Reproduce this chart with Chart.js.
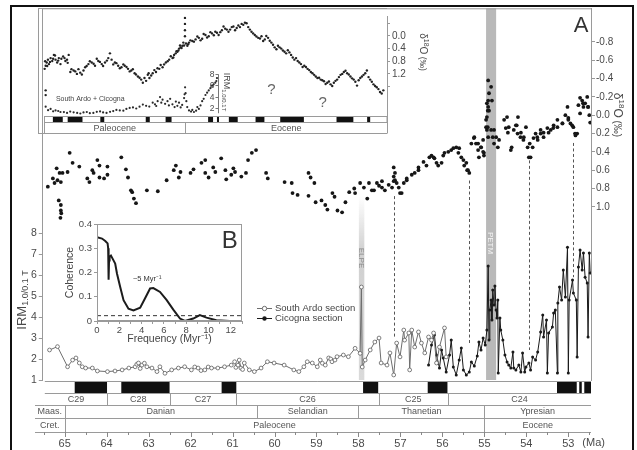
<!DOCTYPE html>
<html>
<head>
<meta charset="utf-8">
<script src="https://cdn.jsdelivr.net/npm/chart.js@4.4.1/dist/chart.umd.min.js"></script>
<style>
  html, body { margin: 0; padding: 0; background: #fff; }
  #wrap { position: relative; width: 637px; height: 450px; overflow: hidden; background: #fff; }
  canvas { position: absolute; }
  #frame { position: absolute; left: 10px; top: 5px; width: 620px; height: 470px; border: 2px solid #111; pointer-events: none; }
</style>
</head>
<body>
<div id="wrap">
  <canvas id="main" width="637" height="450" style="left:0;top:0"></canvas>
  <canvas id="insetA" width="395" height="127" style="left:38px;top:8px"></canvas>
  <canvas id="insetB" width="195" height="132" style="left:55px;top:215px"></canvas>
  <div id="frame"></div>
</div>
<script>
// ---- main panel: Cicogna d18O (Ma, per mil) ----
const d18oAge = [
  65.40,65.28,65.24,65.19,65.17,65.14,65.12,65.09,65.09,65.08,
  65.10,65.09,65.05,64.93,64.88,64.81,64.65,64.46,64.41,64.34,
  64.31,64.22,64.17,64.17,64.06,63.98,63.98,63.65,63.54,63.49,
  63.42,63.39,63.35,63.30,63.04,62.78,62.57,62.40,62.35,62.28,
  62.24,62.00,61.93,61.74,61.65,61.65,61.57,61.46,61.41,61.27,
  61.17,61.15,61.03,60.98,60.94,60.79,60.68,60.63,60.54,60.44,
  60.20,60.16,59.76,59.59,59.57,59.45,59.19,59.14,59.05,59.19,
  59.02,58.88,58.79,58.74,58.62,58.57,58.50,58.39,58.31,58.22,
  58.10,58.08,57.96,57.87,57.79,57.68,57.56,57.44,57.37,57.20,
  57.16,57.13,57.13,57.04,57.01,56.92,56.85,56.73,56.66,56.57,
  56.45,56.38,56.31,56.21,56.14,56.02,55.95,55.86,55.79,55.67,
  55.60,55.55,55.50,55.43,55.39,55.36,55.31,55.24,55.20,55.15,
  55.13,55.08,55.03,55.01,54.96,54.94,54.94,54.91,54.91,54.91,
  54.89,54.91,54.84,54.82,54.89,54.77,54.72,54.68,54.65,54.53,
  54.46,54.42,54.35,54.30,54.23,54.20,54.13,54.06,54.01,53.94,
  53.92,53.85,53.78,53.73,53.66,53.59,53.50,53.42,53.35,53.26,
  53.14,53.07,53.02,53.00,52.95,52.88,52.83,52.79,52.76,52.72,
  52.67,52.64,52.60,52.55,52.53,52.50,
  57.28,57.16,57.16,57.09,56.97,56.85,56.57,56.26,56.19,56.10,
  55.98,55.74,55.62,55.48,55.41,55.25,55.15,55.08,55.03,55.01,
  54.94,54.92,54.96,54.92,54.84,54.80,54.77,54.49,54.44,54.37,
  54.25,54.21,54.14,54.07,53.97,53.90,53.83,53.74,53.66,53.59,
  53.47,53.36,53.26,53.14,53.00,52.91,52.84,52.72,52.65,52.53,
  52.48,57.75,57.63,57.51,57.44
];
const d18oVal = [
  0.78,0.69,0.74,0.58,0.71,0.93,0.63,0.73,1.04,1.07,
  1.12,0.98,0.63,0.62,0.41,0.52,0.56,0.69,0.73,0.60,
  0.63,0.49,0.55,0.68,0.69,0.65,0.56,0.46,0.59,0.68,
  0.82,0.84,0.91,0.96,0.82,0.83,0.71,0.60,0.55,0.68,
  0.62,0.63,0.59,0.52,0.49,0.63,0.68,0.57,0.62,0.47,
  0.60,0.70,0.65,0.58,0.62,0.67,0.63,0.49,0.41,0.38,
  0.63,0.69,0.73,0.74,0.85,0.87,0.63,0.68,0.74,0.88,
  0.95,0.93,0.98,1.03,0.85,0.89,1.04,1.06,0.95,0.84,
  0.80,0.85,0.74,0.79,0.91,0.82,0.74,0.79,0.82,0.79,
  0.57,0.63,0.71,0.79,0.85,0.74,0.71,0.65,0.63,0.57,
  0.51,0.55,0.46,0.46,0.52,0.52,0.41,0.40,0.38,0.35,
  0.36,0.46,0.49,0.52,0.60,0.63,0.31,0.24,0.31,0.38,
  0.46,0.35,0.27,0.41,0.13,0.02,0.16,-0.09,-0.16,0.24,
  -0.24,-0.38,-0.31,-0.16,-0.05,0.16,0.24,0.35,0.27,0.05,
  0.02,0.13,0.35,0.16,0.11,0.02,0.19,0.24,0.13,0.46,
  0.31,0.35,0.20,0.27,0.16,0.24,0.14,0.16,0.11,0.05,
  0.09,0.00,-0.09,0.03,0.09,0.13,0.22,0.20,-0.11,-0.19,
  -0.16,-0.09,-0.13,-0.20,-0.09,0.00,
  0.76,0.67,0.72,0.74,0.85,0.69,0.60,0.44,0.47,0.55,
  0.44,0.36,0.41,0.55,0.60,0.25,0.31,0.35,0.40,0.44,
  -0.13,-0.05,0.05,0.13,0.16,0.24,0.31,0.14,0.19,0.38,
  0.11,0.20,0.24,0.27,0.35,0.46,0.25,0.24,0.20,0.19,
  0.19,0.14,0.13,0.09,0.05,0.11,0.20,-0.02,-0.13,-0.09,
  0.08,0.74,0.82,0.77,0.72
];

// ---- main panel: IRM 1.0/0.1 T ----
const ardoAge = [
  65.36,65.17,64.93,64.81,64.73,64.65,64.58,64.50,64.34,64.22,
  63.98,63.80,63.63,63.47,63.32,63.28,63.24,63.20,63.16,63.10,
  63.04,62.92,62.80,62.73,62.61,62.45,62.29,62.14,61.98,61.90,
  61.82,61.75,61.66,61.58,61.50,61.35,61.19,61.03,60.95,60.92,
  60.87,60.84,60.80,60.76,60.72,60.60,60.48,60.32,60.17,60.01,
  59.77,59.54,59.42,59.30,59.22,59.10,58.98,58.91,58.86,58.79,
  58.71,58.66,58.63,58.56,58.51,58.36,58.24,58.08,57.96,57.93,
  57.91,57.84,57.72,57.61,57.51,57.46,57.32,57.25,57.16,57.09,
  57.01,56.92,56.90,56.80,56.78,56.73,56.66,56.57,56.50,56.42,
  56.33,56.26,56.21,56.14,56.07,55.95,55.91
];
const ardoIrm = [
  2.43,2.59,1.63,1.95,2.05,1.81,1.63,1.57,1.57,1.43,
  1.40,1.43,1.48,1.57,1.63,1.75,1.81,1.55,1.71,1.80,
  1.63,1.57,1.40,1.63,1.32,1.48,1.57,1.63,1.48,1.62,
  1.57,1.45,1.48,1.62,1.57,1.57,1.63,1.71,1.87,1.60,
  1.71,1.95,1.57,1.50,1.81,1.48,1.40,1.57,1.87,1.81,
  1.71,1.48,1.40,1.63,1.87,1.81,1.63,1.95,1.80,1.71,
  2.05,2.00,1.87,1.95,2.11,2.19,2.11,2.51,2.27,5.43,
  1.62,1.95,2.43,2.81,3.00,1.81,1.71,2.29,1.24,2.76,
  2.10,3.38,2.90,3.24,1.48,3.38,2.57,3.29,2.76,2.29,
  3.05,2.90,3.24,1.81,2.57,3.48,2.10
];
const cicAge = [
  56.33,56.26,56.19,56.14,56.07,56.02,55.98,55.91,55.83,55.79,
  55.74,55.67,55.60,55.55,55.50,55.43,55.36,55.31,55.24,55.17,
  55.13,55.08,55.03,54.98,54.94,54.91,54.89,54.87,54.84,54.82,
  54.80,54.77,54.75,54.72,54.70,54.68,54.67,54.63,54.61,54.56,
  54.51,54.46,54.42,54.37,54.32,54.30,54.25,54.18,54.13,54.09,
  54.04,54.01,53.94,53.90,53.85,53.78,53.73,53.66,53.61,53.59,
  53.52,53.50,53.47,53.38,53.35,53.31,53.26,53.25,53.21,53.16,
  53.12,53.07,53.02,53.00,52.98,52.90,52.88,52.81,52.79,52.76,
  52.72,52.67,52.64,52.60,52.55,52.53,52.50,52.48
];
const cicIrm = [
  1.71,2.67,3.14,2.19,1.57,2.43,2.05,1.38,2.19,2.90,
  1.62,1.24,1.95,2.52,1.48,1.24,1.38,1.86,1.67,2.14,
  2.81,2.43,3.00,2.67,3.38,6.43,2.90,4.33,4.81,3.86,
  5.29,4.57,5.48,4.33,3.95,4.81,1.33,3.95,3.38,2.90,
  2.19,1.86,1.71,1.57,2.33,1.57,1.48,1.71,1.38,2.29,
  1.38,1.62,1.81,1.48,2.10,1.95,2.33,3.29,4.10,3.05,
  3.86,1.33,3.24,3.52,4.19,4.33,1.33,4.67,5.43,4.81,
  6.24,4.95,7.33,1.33,4.81,5.76,5.14,4.81,2.10,6.38,
  7.19,6.24,7.05,5.90,5.62,3.05,7.05,6.10
];

// dashed tie lines between d18O and IRM features
const linkAge = [57.16, 55.37, 53.94, 52.90];
const linkTopD18O = [0.85, 0.68, 0.46, 0.27];
const linkBottomIrm = [3.05, 2.76, 2.43, 5.90];

// events
const petmSpan = [54.96, 54.72];
const elpeSpan = [57.99, 57.86];
const elpeTopD18O = 0.88;

// magnetostratigraphy and stages (Ma)
const chronStart = [64.76, 63.65, 61.26, 57.89, 56.35, 53.27, 52.74, 52.62];
const chronEnd   = [63.99, 62.50, 60.91, 57.53, 55.88, 52.80, 52.68, 52.46];
const chronNames = ['C29', 'C28', 'C27', 'C26', 'C25', 'C24'];
const chronBounds = [63.99, 62.50, 60.91, 57.52, 55.87];
const stageNames = ['Maas.', 'Danian', 'Selandian', 'Thanetian', 'Ypresian'];
const stageBounds = [65.0, 60.42, 58.0, 55.0];
const epochNames = ['Cret.', 'Paleocene', 'Eocene'];
const epochBounds = [65.0, 55.0];

// ---- inset A: long-term compilation ----
const insAge = [
  66.12,66.04,65.96,65.86,65.78,65.65,65.52,65.39,65.26,65.13,
  65.00,64.87,64.66,64.48,64.35,64.22,66.04,66.04,64.09,63.83,
  63.57,63.31,63.05,62.92,62.66,62.40,62.14,61.88,61.61,61.35,
  61.09,60.96,60.83,60.57,60.31,60.05,59.79,59.53,59.27,59.01,
  58.75,58.49,58.36,58.23,57.97,57.84,57.58,57.32,57.06,56.80,
  56.54,56.28,56.02,55.89,55.76,55.63,55.49,55.36,55.23,55.16,
  55.03,55.03,55.03,55.03,54.84,54.71,54.45,54.19,53.93,53.67,
  53.41,53.15,52.89,52.63,52.37,52.11,51.85,51.59,51.33,51.07,
  50.81,50.55,50.29,50.03,49.77,49.51,49.24,48.98,48.72,48.46,
  48.20,47.94,47.68,47.42,47.16,46.90,46.64,46.38,46.12,45.86,
  45.60,45.34,45.08,44.82,44.56,44.30,44.04,43.78,43.52,43.26,
  43.00,42.73,42.47,42.21,41.95,41.69,41.43,41.17,40.91,40.65,
  40.39,40.13,39.87,39.61,39.35
];
const insD18O = [
  1.04,0.94,0.84,0.75,0.89,0.70,0.79,0.60,0.75,0.84,
  0.70,0.89,0.65,0.79,0.75,0.60,1.72,1.87,1.14,1.09,
  1.20,1.16,1.09,0.99,0.89,0.84,0.94,0.79,0.89,0.84,
  0.70,0.55,0.75,0.84,0.94,0.99,0.94,1.04,1.09,1.18,
  1.28,1.38,1.48,1.33,1.23,1.33,1.18,1.14,1.04,0.99,
  0.84,0.75,0.70,0.60,0.55,0.50,0.40,0.36,0.31,0.21,
  -0.57,-0.38,-0.18,0.01,0.31,0.21,0.16,0.11,0.06,0.09,
  -0.03,0.01,-0.08,-0.13,-0.03,-0.18,-0.23,-0.13,-0.28,-0.18,
  -0.33,-0.38,-0.42,-0.28,-0.13,-0.03,0.06,0.01,0.11,0.06,
  0.21,0.36,0.31,0.40,0.50,0.45,0.60,0.75,0.79,0.89,
  0.94,1.04,1.14,1.23,1.33,1.38,1.43,1.48,1.53,1.48,
  1.38,1.23,1.14,1.18,1.28,1.38,1.57,1.33,1.23,1.09,
  1.38,1.53,1.62,1.77,1.72
];
const insEdgeAge = [
  66.08,65.92,65.70,65.45,65.30,65.05,64.80,64.55,64.30,64.00,
  63.70,63.45,63.18,62.80,62.55,62.25,62.00,61.75,61.50,61.20,
  60.70,60.45,60.18,59.90,59.65,59.40,59.15,58.90,58.62,58.10,
  57.90,57.70,57.45,57.20,56.95,56.68,56.40,56.15,55.95,55.70,
  55.55,55.42,55.30,55.10,54.95,54.78,54.60,54.32,54.05,53.80,
  53.55,53.28,53.02,52.75,52.50,52.24,51.98,51.72,51.46,51.20,
  50.94,50.68,50.42,50.16,49.90,49.64,49.38,49.10,48.85,48.60,
  48.33,48.07,47.80,47.55,47.29,47.03,46.77,46.51,46.25,45.99,
  45.73,45.47,45.21,44.95,44.69,44.43,44.17,43.91,43.65,43.39,
  43.13,42.86,42.60,42.34,42.08,41.82,41.56,41.30,41.04,40.78,
  40.52,40.26,40.00,39.74,39.48
];
const insEdgeD18O = [
  0.80,0.95,0.82,0.72,0.62,0.78,0.72,0.70,0.85,1.05,
  1.12,1.05,1.22,0.95,0.80,0.88,0.72,0.82,0.95,0.78,
  0.90,0.86,1.02,0.90,0.98,1.12,1.05,1.22,1.32,1.42,
  1.18,1.25,1.08,1.02,0.92,0.90,0.80,0.64,0.68,0.48,
  0.46,0.30,0.38,0.30,0.24,0.26,0.14,0.18,0.02,0.14,
  -0.06,0.05,-0.12,-0.02,-0.10,-0.12,-0.30,-0.20,-0.20,-0.30,
  -0.25,-0.28,-0.35,-0.40,-0.20,-0.08,0.02,0.08,0.16,0.00,
  0.15,0.28,0.42,0.36,0.46,0.55,0.52,0.68,0.70,0.84,
  0.98,0.98,1.08,1.18,1.28,1.32,1.40,1.52,1.44,1.58,
  1.42,1.30,1.20,1.10,1.22,1.34,1.45,1.40,1.28,1.18,
  1.30,1.45,1.58,1.68,1.82
];
const insIrmAge = [
  66.04,65.65,65.26,64.87,64.35,63.83,63.30,62.79,62.27,61.74,
  61.23,60.70,60.18,59.66,59.14,58.62,58.10,57.58,57.19,56.80,
  56.41,56.02,55.63,55.37,55.10,55.02,54.92,54.71,54.32,53.93,
  53.67,53.41,53.15,52.89,52.63,52.50,
  65.85,65.45,65.05,64.60,64.10,63.55,63.05,62.55,62.00,61.50,
  60.95,60.45,59.90,59.40,58.88,58.36,57.85,57.40,57.00,56.60,
  56.20,55.85,55.50,55.25,55.06,54.98,54.85,54.55,54.45,54.15,
  54.05,53.80,53.55,53.28,53.02,52.76,52.55,56.90,56.30,55.75,57.30
];
const insIrm = [
  2.17,1.78,1.50,1.22,1.05,1.17,0.95,1.22,1.05,1.33,
  1.05,1.39,1.50,1.78,2.05,2.17,2.33,2.89,3.17,3.44,
  3.17,2.61,2.33,2.05,3.72,5.67,3.17,1.50,1.22,1.78,
  3.17,4.28,5.11,5.94,6.50,7.33,
  1.55,1.35,1.40,1.20,1.30,1.05,1.15,1.00,1.25,1.15,
  1.25,1.60,1.45,1.95,1.85,2.55,2.20,2.60,3.90,2.70,
  3.60,2.10,2.90,2.50,4.40,4.60,2.10,1.30,1.60,1.45,
  2.10,2.40,3.60,4.70,5.50,6.20,6.80,2.90,2.40,3.10,2.30
];
const insChronStart = [65.47, 64.30, 61.72, 58.13, 56.56, 53.20, 52.50, 51.56, 49.45, 47.50, 43.05, 40.63];
const insChronEnd   = [64.69, 63.13, 61.41, 57.81, 56.09, 52.81, 52.34, 50.86, 48.75, 45.63, 41.72, 40.39];
const insEpochNames = ['Paleocene', 'Eocene'];
const insEpochBounds = [66.17, 55.0];
const miniAxisAge = 52.42;
const miniIrmTicks = [2, 4, 6, 8];
const qAge = [48.2, 44.14];
const qIrm = [5.17, 2.83];

// ---- inset B: coherence spectrum ----
const cohFreq = [0,0.05,0.45,0.74,0.95,1.0,1.04,1.08,1.13,1.25,1.48,1.63,1.79,2.08,2.38,2.82,3.27,3.87,4.30,4.76,5.05,5.65,6.25,6.84,7.44,7.88,8.63,9.22,9.82,10.7,11.9,12.3];
const cohVal  = [0.345,0.345,0.34,0.33,0.32,0.30,0.17,0.25,0.265,0.27,0.25,0.237,0.196,0.14,0.086,0.051,0.044,0.055,0.093,0.134,0.136,0.12,0.086,0.047,0.01,0.0,0.01,0.024,0.014,0.003,0.0,0.0];
const sigFreq = [0, 13];
const sigLevel = [0.022, 0.022];

const FONT = '"Liberation Sans", Arial, Helvetica, sans-serif';
const GRAY = '#9a9a9a';
const TXT = '#4a4a4a';
Chart.defaults.font.family = FONT;
Chart.defaults.color = TXT;

const pts = (xs, ys) => xs.map((v, i) => ({x: v, y: ys[i]}));

function hline(ctx, x1, x2, y) { ctx.beginPath(); ctx.moveTo(x1, y); ctx.lineTo(x2, y); ctx.stroke(); }
function vline(ctx, x, y1, y2) { ctx.beginPath(); ctx.moveTo(x, y1); ctx.lineTo(x, y2); ctx.stroke(); }

// parts: [text, size, baseline offset]
function richText(ctx, parts, cx, cy, angle, color) {
  ctx.save();
  ctx.translate(cx, cy);
  ctx.rotate(angle);
  ctx.fillStyle = color;
  ctx.textAlign = 'left';
  ctx.textBaseline = 'alphabetic';
  let total = 0;
  parts.forEach(p => { ctx.font = p[1] + 'px ' + FONT; p.w = ctx.measureText(p[0]).width; total += p.w; });
  let pos = -total / 2;
  parts.forEach(p => { ctx.font = p[1] + 'px ' + FONT; ctx.fillText(p[0], pos, p[2]); pos += p.w; });
  ctx.restore();
}

function rowLabels(ctx, names, edges, y) {
  names.forEach((n, i) => ctx.fillText(n, (edges[i] + edges[i + 1]) / 2, y));
}

const mainDeco = {
  id: 'mainDeco',
  beforeDatasetsDraw(chart) {
    const {ctx, chartArea: a, scales: {x, yI, yD}} = chart;
    ctx.save();
    const p1 = x.getPixelForValue(petmSpan[0]), p2 = x.getPixelForValue(petmSpan[1]);
    ctx.fillStyle = '#b9b9b9';
    ctx.fillRect(p1, a.top, p2 - p1, a.bottom - a.top);

    const e1 = x.getPixelForValue(elpeSpan[0]), e2 = x.getPixelForValue(elpeSpan[1]);
    const eTop = yD.getPixelForValue(elpeTopD18O);
    const g = ctx.createLinearGradient(0, eTop, 0, a.bottom);
    g.addColorStop(0, 'rgba(210,210,210,0)');
    g.addColorStop(0.3, 'rgba(208,208,208,1)');
    g.addColorStop(1, 'rgba(218,218,218,1)');
    ctx.fillStyle = g;
    ctx.fillRect(e1, eTop, e2 - e1, a.bottom - eTop);

    ctx.setLineDash([3, 2.5]);
    ctx.strokeStyle = '#555';
    ctx.lineWidth = 1;
    linkAge.forEach((ag, i) => {
      const px = Math.round(x.getPixelForValue(ag)) + 0.5;
      vline(ctx, px, yD.getPixelForValue(linkTopD18O[i]) + 3, yI.getPixelForValue(linkBottomIrm[i]));
    });
    ctx.restore();
  },
  afterDraw(chart) {
    const {ctx, chartArea: a, scales: {x}} = chart;
    const px = v => x.getPixelForValue(v);
    ctx.save();
    ctx.strokeStyle = GRAY;
    ctx.lineWidth = 1;
    hline(ctx, a.left, a.right, a.top + 0.5);

    // event labels
    richText(ctx, [['PETM', 8, 3]], (px(petmSpan[0]) + px(petmSpan[1])) / 2, 243, Math.PI / 2, '#f4f4f4');
    richText(ctx, [['ELPE', 8, 3]], (px(elpeSpan[0]) + px(elpeSpan[1])) / 2, 258, Math.PI / 2, '#8a8a8a');

    // polarity bar
    const ROW_LEFT = 35;
    const cb0 = a.bottom + 1, cb1 = cb0 + 12;
    ctx.fillStyle = '#111';
    chronStart.forEach((s, i) => {
      const xa = px(s), xb = px(chronEnd[i]);
      ctx.fillRect(xa, cb0, xb - xa, cb1 - cb0);
    });
    hline(ctx, a.left + 2, a.right, cb0 + 0.5);
    hline(ctx, a.left + 2, a.right, cb1 + 0.5);

    const r1 = cb1 + 12, r2 = r1 + 13, r3 = r2 + 14;
    hline(ctx, a.left + 2, a.right, r1 + 0.5);
    hline(ctx, ROW_LEFT, a.right, r2 + 0.5);
    hline(ctx, ROW_LEFT, a.right, r3 + 0.5);
    hline(ctx, ROW_LEFT, a.left + 2, r1 + 0.5);

    chronBounds.forEach(b => vline(ctx, Math.round(px(b)) + 0.5, cb1, r1));
    stageBounds.forEach(b => vline(ctx, Math.round(px(b)) + 0.5, r1, r2));
    epochBounds.forEach(b => vline(ctx, Math.round(px(b)) + 0.5, r2, r3));

    ctx.fillStyle = '#555';
    ctx.font = '9px ' + FONT;
    ctx.textAlign = 'center';
    ctx.textBaseline = 'middle';
    rowLabels(ctx, chronNames, [a.left + 2, ...chronBounds.map(px), a.right], cb1 + 6.5);
    rowLabels(ctx, stageNames, [ROW_LEFT, ...stageBounds.map(px), a.right], r1 + 7);
    rowLabels(ctx, epochNames, [ROW_LEFT, ...epochBounds.map(px), a.right], r2 + 7.5);

    // age ticks
    ctx.strokeStyle = '#888';
    for (let t = Math.ceil(x.min * 2) / 2; t <= x.max; t += 0.5) {
      const tx = Math.round(px(t)) + 0.5;
      vline(ctx, tx, r3, r3 + (Number.isInteger(t) ? 5 : 3));
    }
    ctx.fillStyle = TXT;
    ctx.font = '11px ' + FONT;
    ctx.textAlign = 'left';
    ctx.fillText('(Ma)', px(53) + 14, 443);

    // axis titles
    richText(ctx, [['IRM', 13, 4.5], ['1.0/0.1 T', 9, 6.5]], 21, 300, -Math.PI / 2, TXT);
    richText(ctx, [['δ', 12, 4], ['18', 8, -0.5], ['O', 12, 4], [' (‰)', 10, 4]], 618, 115, Math.PI / 2, TXT);

    // legend
    ctx.font = '9.5px ' + FONT;
    ctx.textBaseline = 'middle';
    ctx.strokeStyle = '#6e6e6e';
    hline(ctx, 257, 272, 308.5);
    ctx.beginPath(); ctx.arc(264.5, 308.5, 2.2, 0, Math.PI * 2);
    ctx.fillStyle = '#fff'; ctx.fill(); ctx.stroke();
    ctx.strokeStyle = '#1a1a1a';
    hline(ctx, 257, 272, 318.5);
    ctx.beginPath(); ctx.arc(264.5, 318.5, 2.2, 0, Math.PI * 2);
    ctx.fillStyle = '#1a1a1a'; ctx.fill();
    ctx.fillStyle = '#444';
    ctx.fillText('South Ardo section', 275, 308.5);
    ctx.fillText('Cicogna section', 275, 318.5);

    // panel letter
    ctx.font = '22px ' + FONT;
    ctx.fillStyle = '#333';
    ctx.textAlign = 'center';
    ctx.fillText('A', a.right - 10, a.top + 18);
    ctx.restore();
  }
};

new Chart(document.getElementById('main'), {
  type: 'scatter',
  data: {
    datasets: [
      { label: 'd18O', data: pts(d18oAge, d18oVal), yAxisID: 'yD', showLine: false,
        pointRadius: 1.9, backgroundColor: '#161616', borderColor: '#161616', pointBorderWidth: 0 },
      { label: 'South Ardo section', data: pts(ardoAge, ardoIrm), yAxisID: 'yI', showLine: true,
        borderColor: '#6e6e6e', borderWidth: 1, pointRadius: 1.9,
        pointBackgroundColor: '#fff', pointBorderColor: '#5e5e5e', pointBorderWidth: 0.8 },
      { label: 'Cicogna section', data: pts(cicAge, cicIrm), yAxisID: 'yI', showLine: true,
        borderColor: '#1a1a1a', borderWidth: 1, pointRadius: 1.5,
        pointBackgroundColor: '#1a1a1a', pointBorderColor: '#1a1a1a', pointBorderWidth: 0 }
    ]
  },
  options: {
    responsive: false, animation: false, devicePixelRatio: 1,
    layout: { padding: { top: 8, left: 0, right: 0, bottom: 0 } },
    plugins: { legend: { display: false }, tooltip: { enabled: false } },
    scales: {
      x: {
        type: 'linear', reverse: true, min: 52.46, max: 65.52, position: 'bottom',
        afterFit: s => { s.height = 70; },
        grid: { display: false, drawTicks: false }, border: { display: false },
        ticks: { stepSize: 1, includeBounds: false, autoSkip: false, maxRotation: 0, padding: 57,
                 color: TXT, font: { size: 11 }, callback: v => Number.isInteger(v) ? String(v) : '' }
      },
      yI: {
        position: 'left', min: 1, max: 18.71,
        afterFit: s => { s.width = 38; },
        afterBuildTicks: s => { s.ticks = s.ticks.filter(t => t.value <= 8.01); },
        grid: { drawOnChartArea: false, tickLength: 4, color: GRAY }, border: { color: GRAY },
        ticks: { stepSize: 1, includeBounds: false, padding: 2, color: TXT, font: { size: 10.5 } }
      },
      yD: {
        position: 'right', reverse: true, min: -1.167, max: 2.89,
        afterFit: s => { s.width = 46; },
        afterBuildTicks: s => { s.ticks = s.ticks.filter(t => t.value > -0.81 && t.value < 1.01); },
        grid: { drawOnChartArea: false, tickLength: 4, color: GRAY }, border: { color: GRAY },
        ticks: { stepSize: 0.2, includeBounds: false, padding: 1, color: TXT, font: { size: 10 },
                 callback: v => Math.abs(v) < 1e-9 ? '0.0' : v.toFixed(1) }
      }
    }
  },
  plugins: [mainDeco]
});

const insetADeco = {
  id: 'insetADeco',
  afterDraw(chart) {
    const {ctx, chartArea: a, scales: {x, yI}} = chart;
    const px = v => x.getPixelForValue(v);
    ctx.save();
    ctx.strokeStyle = GRAY;
    ctx.lineWidth = 1;
    const bottom = chart.height - 1.5;
    hline(ctx, 0, a.right, 0.5);
    hline(ctx, 0, a.right, bottom);
    vline(ctx, 0.5, 0, bottom);
    vline(ctx, a.right + 0.5, a.bottom, bottom);

    // polarity bar
    const c0 = a.bottom + 0.5, c1 = c0 + 6;
    ctx.fillStyle = '#111';
    insChronStart.forEach((s, i) => {
      const xa = px(s), xb = px(insChronEnd[i]);
      ctx.fillRect(xa, c0, xb - xa, c1 - c0);
    });
    ctx.strokeRect(a.left + 2.5, c0, a.right - a.left - 2.5, c1 - c0);
    insEpochBounds.forEach(b => vline(ctx, Math.round(px(b)) + 0.5, c1, bottom));
    ctx.fillStyle = '#555';
    ctx.font = '9px ' + FONT;
    ctx.textAlign = 'center';
    ctx.textBaseline = 'middle';
    rowLabels(ctx, insEpochNames, [...insEpochBounds.map(px), a.right], (c1 + bottom) / 2 + 0.5);

    // mini IRM axis
    const ax = Math.round(px(miniAxisAge)) + 0.5;
    ctx.strokeStyle = '#777';
    vline(ctx, ax, yI.getPixelForValue(1), yI.getPixelForValue(8));
    ctx.fillStyle = TXT;
    ctx.font = '8.5px ' + FONT;
    ctx.textAlign = 'right';
    miniIrmTicks.forEach(t => {
      const ty = Math.round(yI.getPixelForValue(t)) + 0.5;
      hline(ctx, ax - 3, ax, ty);
      ctx.fillText(String(t), ax - 4, ty);
    });
    richText(ctx, [['IRM', 9, 3], ['1.0/0.1T', 6, 5]], ax + 8, yI.getPixelForValue(4.8), Math.PI / 2, TXT);

    ctx.fillStyle = '#666';
    ctx.font = '15px ' + FONT;
    ctx.textAlign = 'center';
    qAge.forEach((q, i) => ctx.fillText('?', px(q), yI.getPixelForValue(qIrm[i])));

    ctx.fillStyle = '#444';
    ctx.font = '7px ' + FONT;
    ctx.textAlign = 'left';
    ctx.fillText('South Ardo + Cicogna', px(65.23), yI.getPixelForValue(3.5));

    richText(ctx, [['δ', 10, 3.5], ['18', 7, -0.5], ['O', 10, 3.5], [' (‰)', 8.5, 3.5]], a.right + 36, 44, Math.PI / 2, TXT);
    ctx.restore();
  }
};

new Chart(document.getElementById('insetA'), {
  type: 'scatter',
  data: {
    datasets: [
      { data: pts(insAge, insD18O).concat(pts(insEdgeAge, insEdgeD18O)), yAxisID: 'yD',
        pointRadius: 1.2, backgroundColor: '#222', borderColor: '#222', pointBorderWidth: 0 },
      { data: pts(insIrmAge, insIrm), yAxisID: 'yI',
        pointRadius: 1.1, backgroundColor: '#2a2a2a', borderColor: '#2a2a2a', pointBorderWidth: 0 }
    ]
  },
  options: {
    responsive: false, animation: false, devicePixelRatio: 1,
    layout: { padding: { top: 0, left: 0, right: 0, bottom: 19 } },
    plugins: { legend: { display: false }, tooltip: { enabled: false } },
    scales: {
      x: { type: 'linear', reverse: true, min: 39.06, max: 66.33, display: false },
      yI: { display: false, min: 0.5, max: 18.5 },
      yD: {
        position: 'right', reverse: true, min: -0.63, max: 2.53,
        afterFit: s => { s.width = 46; },
        afterBuildTicks: s => { s.ticks = s.ticks.filter(t => t.value > -0.41 && t.value < 1.61); },
        grid: { drawOnChartArea: false, tickLength: 3, color: GRAY }, border: { color: GRAY },
        ticks: { stepSize: 0.4, includeBounds: false, padding: 2, color: TXT, font: { size: 10 },
                 callback: v => (v > -0.01 && v < 1.21) ? (Math.abs(v) < 1e-9 ? '0.0' : v.toFixed(1)) : '' }
      }
    }
  },
  plugins: [insetADeco]
});

const insetBDeco = {
  id: 'insetBDeco',
  beforeDraw(chart) {
    const {ctx, chartArea: a} = chart;
    ctx.save();
    ctx.fillStyle = '#fff';
    ctx.fillRect(a.left, a.top, a.right - a.left, a.bottom - a.top);
    ctx.restore();
  },
  afterDraw(chart) {
    const {ctx, chartArea: a, scales: {x, y}} = chart;
    ctx.save();
    ctx.strokeStyle = GRAY;
    ctx.lineWidth = 1;
    ctx.strokeRect(a.left + 0.5, a.top + 0.5, a.right - a.left - 1, a.bottom - a.top - 1);
    ctx.fillStyle = '#333';
    ctx.textAlign = 'center';
    ctx.textBaseline = 'middle';
    ctx.font = '24px ' + FONT;
    ctx.fillText('B', x.getPixelForValue(11.9), y.getPixelForValue(0.33));
    ctx.font = '7.5px ' + FONT;
    ctx.fillText('~5 Myr⁻¹', x.getPixelForValue(4.5), y.getPixelForValue(0.172));
    ctx.restore();
  }
};

new Chart(document.getElementById('insetB'), {
  type: 'scatter',
  data: {
    datasets: [
      { data: pts(cohFreq, cohVal), showLine: true, borderColor: '#1c1c1c', borderWidth: 2, pointRadius: 0 },
      { data: pts(sigFreq, sigLevel), showLine: true, borderColor: '#333', borderWidth: 1, borderDash: [4, 3], pointRadius: 0 }
    ]
  },
  options: {
    responsive: false, animation: false, devicePixelRatio: 1,
    layout: { padding: { top: 9, right: 8, left: 0, bottom: 0 } },
    plugins: { legend: { display: false }, tooltip: { enabled: false } },
    scales: {
      x: {
        type: 'linear', min: 0, max: 13,
        afterFit: s => { s.height = 26; },
        grid: { drawOnChartArea: false, tickLength: 3, color: GRAY }, border: { color: GRAY },
        ticks: { stepSize: 1, includeBounds: false, autoSkip: false, maxRotation: 0, padding: 1,
                 color: TXT, font: { size: 9.5 }, callback: v => v % 2 === 0 ? String(v) : '' },
        title: { display: true, text: 'Frequency (Myr⁻¹)', color: '#444', font: { size: 10.5 }, padding: { top: 0, bottom: 2 } }
      },
      y: {
        min: 0, max: 0.4,
        afterFit: s => { s.width = 42; },
        grid: { drawOnChartArea: false, tickLength: 3, color: GRAY }, border: { color: GRAY },
        ticks: { stepSize: 0.1, padding: 2, color: TXT, font: { size: 9.5 },
                 callback: v => Math.abs(v) < 1e-9 ? '0' : v.toFixed(1) },
        title: { display: true, text: 'Coherence', color: '#444', font: { size: 10.5 }, padding: { top: 9, bottom: 0 } }
      }
    }
  },
  plugins: [insetBDeco]
});
</script>
</body>
</html>
